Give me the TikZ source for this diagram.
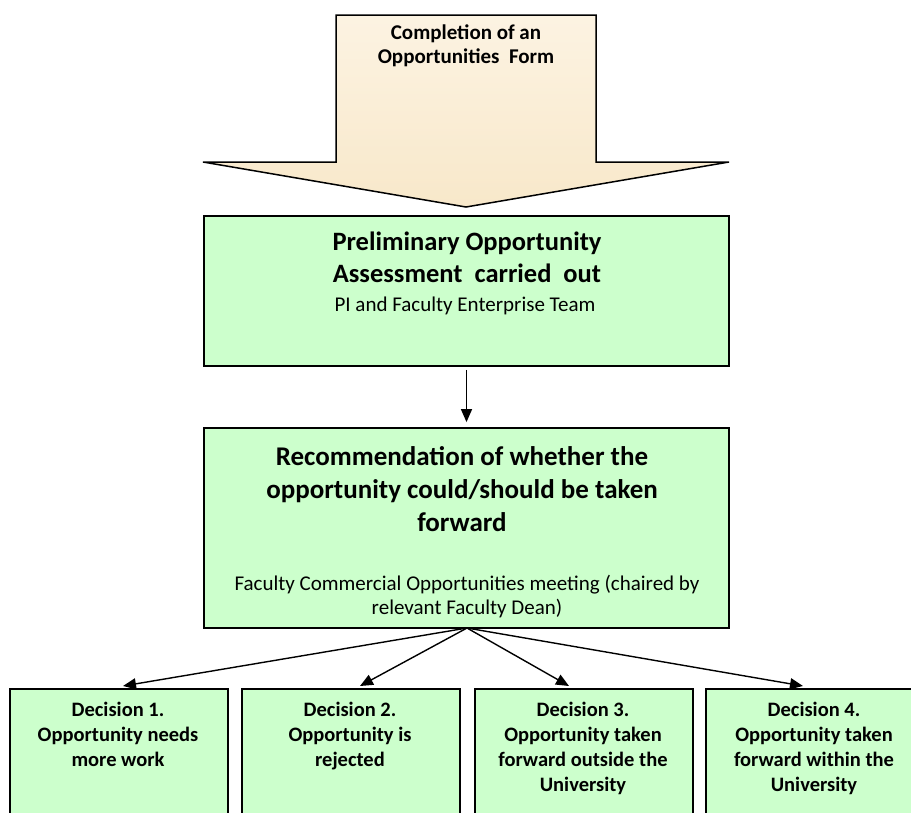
\documentclass[tikz,border=0pt]{standalone}
\usepackage{fontspec}
\setmainfont{Carlito}
\usetikzlibrary{arrows.meta}
\definecolor{boxgreen}{RGB}{204,255,204}
\definecolor{beige}{RGB}{248,232,202}
\definecolor{beigelight}{RGB}{252,243,226}
\begin{document}
\begin{tikzpicture}[x=1pt,y=-1pt,
  gbox/.style={draw=black,line width=1.8pt,fill=boxgreen,inner sep=0pt},
  txt/.style={align=center,inner sep=0pt,text=black},
  conn/.style={line width=1.4pt,-{Triangle[length=13pt,width=11pt]}}]
\clip (0,0) rectangle (911,812);
\fill[white] (0,0) rectangle (911,812);
% big arrow
\path[draw=black,line width=1.5pt,top color=beigelight,bottom color=beige]
  (336,15) -- (596,15) -- (596,162) -- (729,162) -- (466,207) -- (203,162) -- (336,162) -- cycle;
\node[txt,font=\bfseries\fontsize{21}{24}\selectfont,anchor=north] (form) at (466,25)
  {Completion of an\\Opportunities\ \ Form};
% box 1
\node[gbox,minimum width=525pt,minimum height=150pt] (b1) at (466.5,291) {};
\node[txt,anchor=north,font=\bfseries\fontsize{26.5}{32}\selectfont] (b1t) at (467,232)
  {Preliminary Opportunity\\Assessment\ \ carried\ \ out};
\node[txt,anchor=north,font=\fontsize{21}{24}\selectfont] (b1s) at (465,297) {PI and Faculty Enterprise Team};
% box 2
\node[gbox,minimum width=525pt,minimum height=200pt] (b2) at (466.5,528) {};
\node[txt,anchor=north,font=\bfseries\fontsize{27}{33}\selectfont] (b2t) at (462,446)
  {Recommendation of whether the\\opportunity could/should be taken\\forward};
\node[txt,anchor=north,font=\fontsize{21}{24}\selectfont] (b2s) at (467,575)
  {Faculty Commercial Opportunities meeting (chaired by\\relevant Faculty Dean)};
% decision boxes
\node[gbox,minimum width=218pt,minimum height=140pt,anchor=north west] (d1) at (9,688) {};
\node[gbox,minimum width=218pt,minimum height=140pt,anchor=north west] (d2) at (241,688) {};
\node[gbox,minimum width=218pt,minimum height=140pt,anchor=north west] (d3) at (474,688) {};
\node[gbox,minimum width=218pt,minimum height=140pt,anchor=north west] (d4) at (705,688) {};
\tikzset{dtxt/.style={txt,anchor=north,font=\bfseries\fontsize{20.5}{25}\selectfont}}
\node[dtxt] (d1t) at (118,702) {Decision 1.\\Opportunity needs\\more work};
\node[dtxt] (d2t) at (350,702) {Decision 2.\\Opportunity is\\rejected};
\node[dtxt] (d3t) at (583,702) {Decision 3.\\Opportunity taken\\forward outside the\\University};
\node[dtxt] (d4t) at (814,702) {Decision 4.\\Opportunity taken\\forward within the\\University};
% connectors
\draw[conn,shorten <=3pt,shorten >=5pt] (b1.south) -- (b2.north);
\coordinate (fan) at (467,628);
\draw[conn] (fan) -- (123,686);
\draw[conn] (fan) -- (360,686);
\draw[conn] (fan) -- (569,686);
\draw[conn] (fan) -- (803,686);
\end{tikzpicture}
\end{document}
